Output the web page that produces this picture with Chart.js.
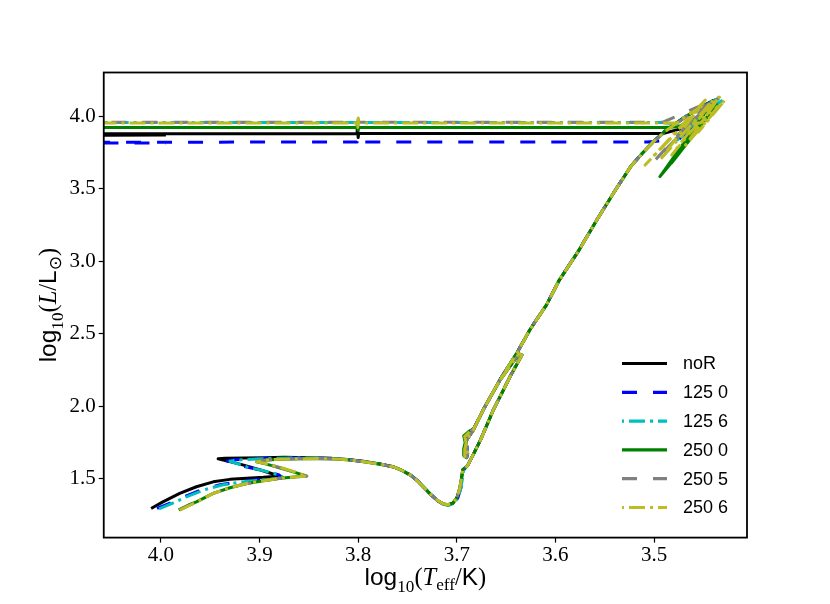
<!DOCTYPE html>
<html>
<head>
<meta charset="utf-8">
<script src="https://cdn.jsdelivr.net/npm/chart.js@4.4.0/dist/chart.umd.min.js"></script>
<style>
html,body{margin:0;padding:0;background:#ffffff;}
#wrap{width:830px;height:604px;position:relative;}
</style>
</head>
<body>
<div id="wrap"><canvas id="c" width="830" height="604"></canvas></div>
<script>
// ---------------- DATA ----------------
const seriesLabels = ['noR', '125 0', '125 6', '250 0', '250 5', '250 6'];
const xTicks = [3.5, 3.6, 3.7, 3.8, 3.9, 4.0];
const yTicks = [1.5, 2.0, 2.5, 3.0, 3.5, 4.0];

const teffNoR = [4.010,3.998,3.981,3.964,3.947,3.930,3.913,3.896,3.882,
 3.884,3.899,3.918,3.942,
 3.935,3.915,3.895,3.875,3.850,3.828,3.811,3.795,3.778,3.764,3.755,3.747,3.740,3.734,3.729,3.724,3.719,3.714,3.709,3.704,3.700,3.697,3.695,3.694,
 3.689,3.683,3.676,3.663,3.646,3.634,
 3.637,3.656,3.673,3.683,3.690,3.692,3.692,3.690,3.689,3.690,3.692,3.687,
 3.683,3.673,3.656,3.639,3.626,3.609,3.596,3.576,3.558,3.541,3.524,3.512,3.500,
 3.488,3.470,3.452,3.440,3.470,3.450,3.436,3.475,3.455,3.445,3.470,3.491,
 3.700,3.7995,3.800,3.8005,3.801,4.000,4.400,4.400,3.995];
const lumNoR = [1.294,1.340,1.398,1.444,1.478,1.495,1.502,1.509,1.517,
 1.527,1.560,1.597,1.637,
 1.640,1.643,1.645,1.647,1.645,1.640,1.633,1.620,1.602,1.582,1.555,1.524,1.485,1.443,1.408,1.374,1.345,1.325,1.318,1.330,1.365,1.430,1.510,1.560,
 1.590,1.670,1.766,1.973,2.203,2.353,
 2.362,2.182,1.977,1.838,1.765,1.700,1.655,1.645,1.670,1.730,1.790,1.825,
 1.842,1.977,2.185,2.367,2.526,2.700,2.871,3.078,3.285,3.472,3.651,3.745,3.830,
 3.905,3.990,4.065,4.110,3.880,4.030,4.120,3.850,3.990,4.050,3.920,3.883,
 3.883,3.883,3.855,3.911,3.883,3.881,3.880,3.866,3.872];

const teff125_0 = [4.004,3.990,3.975,3.958,3.940,3.922,3.905,3.890,3.877,
 3.880,3.897,3.915,3.933,
 3.925,3.905,3.885,3.865,3.845,3.826,3.810,3.794,3.777,3.763,3.754,3.746,3.739,3.733,3.728,3.723,3.718,3.713,3.708,3.703,3.699,3.696,3.694,3.693,
 3.689,3.683,3.676,3.663,3.646,3.635,
 3.638,3.656,3.673,3.683,3.690,3.692,3.692,3.690,3.689,3.690,3.692,3.687,
 3.683,3.673,3.656,3.639,3.626,3.609,3.596,3.576,3.558,3.541,3.524,3.512,3.500,
 3.486,3.468,3.450,3.438,3.468,3.448,3.434,3.478,3.458,3.446,3.478,3.507,
 3.700,3.7995,3.800,3.8005,3.801,4.000,4.400,4.400,3.995];
const lum125_0 = [1.294,1.333,1.380,1.425,1.458,1.478,1.490,1.499,1.507,
 1.525,1.555,1.583,1.622,
 1.630,1.637,1.641,1.644,1.644,1.639,1.631,1.618,1.600,1.579,1.552,1.521,1.482,1.440,1.404,1.371,1.342,1.323,1.317,1.330,1.366,1.431,1.511,1.561,
 1.592,1.672,1.768,1.975,2.205,2.355,
 2.364,2.184,1.979,1.840,1.767,1.702,1.657,1.647,1.672,1.732,1.792,1.827,
 1.844,1.979,2.187,2.369,2.528,2.702,2.873,3.080,3.287,3.474,3.653,3.747,3.832,
 3.910,4.000,4.075,4.115,3.870,4.035,4.125,3.820,3.960,4.040,3.840,3.824,
 3.824,3.824,3.810,3.845,3.824,3.823,3.822,3.812,3.818];

const teff125_6 = [4.002,3.988,3.973,3.956,3.938,3.920,3.903,3.888,3.876,
 3.879,3.895,3.913,3.930,
 3.922,3.903,3.884,3.864,3.844,3.825,3.809,3.793,3.777,3.763,3.754,3.746,3.739,3.733,3.728,3.723,3.718,3.713,3.708,3.703,3.699,3.696,3.694,3.693,
 3.689,3.683,3.676,3.663,3.646,3.635,
 3.638,3.656,3.673,3.683,3.690,3.692,3.692,3.690,3.689,3.690,3.692,3.687,
 3.683,3.673,3.656,3.639,3.626,3.609,3.596,3.576,3.558,3.541,3.524,3.512,3.500,
 3.487,3.469,3.451,3.437,3.472,3.449,3.433,3.476,3.456,3.429,3.468,3.491,
 3.700,3.7995,3.800,3.8005,3.801,4.400];
const lum125_6 = [1.292,1.331,1.378,1.423,1.456,1.476,1.488,1.497,1.505,
 1.523,1.553,1.581,1.620,
 1.628,1.636,1.640,1.643,1.643,1.638,1.630,1.617,1.599,1.578,1.551,1.520,1.481,1.439,1.403,1.370,1.341,1.322,1.316,1.329,1.365,1.430,1.510,1.560,
 1.591,1.671,1.767,1.974,2.204,2.354,
 2.363,2.183,1.978,1.839,1.766,1.701,1.656,1.646,1.671,1.731,1.791,1.826,
 1.843,1.978,2.186,2.368,2.527,2.701,2.872,3.079,3.286,3.473,3.652,3.746,3.831,
 3.908,3.995,4.070,4.125,3.860,4.040,4.135,3.840,3.985,4.120,3.940,3.958,
 3.958,3.958,3.975,3.940,3.958,3.958];

const teff250_0 = [3.982,3.972,3.964,3.947,3.930,3.913,3.896,3.879,3.862,3.853,
 3.865,3.880,3.893,3.903,
 3.897,3.880,3.860,3.840,3.823,3.808,3.794,3.778,3.764,3.755,3.747,3.740,3.734,3.729,3.724,3.719,3.714,3.709,3.704,3.700,3.697,3.695,3.694,
 3.689,3.683,3.676,3.663,3.646,3.634,
 3.637,3.656,3.673,3.683,3.691,3.693,3.693,3.691,3.690,3.691,3.693,3.688,
 3.683,3.673,3.656,3.639,3.626,3.609,3.596,3.576,3.558,3.541,3.524,3.512,3.500,
 3.488,3.470,3.452,3.440,3.494,3.480,3.462,3.445,3.436,3.482,3.462,3.437,3.475,3.491,
 3.700,3.7995,3.800,3.8005,3.801,4.400];
const lum250_0 = [1.285,1.318,1.340,1.398,1.437,1.467,1.485,1.502,1.513,1.518,
 1.545,1.575,1.600,1.617,
 1.627,1.634,1.638,1.639,1.636,1.629,1.617,1.600,1.581,1.555,1.524,1.486,1.444,1.409,1.376,1.347,1.327,1.320,1.332,1.367,1.432,1.512,1.562,
 1.590,1.670,1.766,1.973,2.203,2.353,
 2.362,2.182,1.977,1.838,1.765,1.705,1.660,1.648,1.672,1.735,1.795,1.825,
 1.842,1.977,2.185,2.367,2.526,2.700,2.871,3.078,3.285,3.472,3.651,3.745,3.830,
 3.905,3.990,4.065,4.105,3.585,3.700,3.860,4.010,4.080,3.680,3.880,4.060,3.930,3.924,
 3.924,3.924,3.905,3.945,3.924,3.924];

const teff250_5 = [3.981,3.971,3.964,3.947,3.930,3.913,3.896,3.879,3.862,3.852,
 3.864,3.879,3.892,3.903,
 3.897,3.880,3.860,3.840,3.823,3.808,3.794,3.778,3.764,3.755,3.747,3.740,3.734,3.729,3.724,3.719,3.714,3.709,3.704,3.700,3.697,3.695,3.694,
 3.689,3.683,3.676,3.663,3.646,3.634,
 3.637,3.656,3.673,3.683,3.690,3.692,3.692,3.690,3.689,3.690,3.692,3.687,
 3.683,3.673,3.656,3.639,3.626,3.609,3.596,3.576,3.558,3.541,3.524,3.512,3.500,
 3.487,3.469,3.451,3.443,3.500,3.461,3.441,3.484,3.464,3.438,3.478,3.454,3.434,3.491,
 3.700,3.7995,3.800,3.8005,3.801,4.400];
const lum250_5 = [1.284,1.317,1.340,1.398,1.437,1.467,1.485,1.502,1.513,1.517,
 1.546,1.576,1.600,1.616,
 1.627,1.634,1.638,1.639,1.636,1.629,1.617,1.600,1.581,1.555,1.524,1.486,1.444,1.409,1.376,1.347,1.327,1.320,1.332,1.367,1.432,1.512,1.562,
 1.590,1.670,1.766,1.973,2.203,2.353,
 2.362,2.182,1.977,1.838,1.765,1.700,1.655,1.645,1.670,1.730,1.790,1.825,
 1.842,1.977,2.185,2.367,2.526,2.700,2.871,3.078,3.285,3.472,3.651,3.745,3.830,
 3.902,3.992,4.068,4.090,3.690,3.985,4.110,3.800,3.935,4.115,3.845,4.020,4.132,3.961,
 3.961,3.961,3.980,3.945,3.961,3.961];

const teff250_6 = [3.981,3.970,3.963,3.947,3.930,3.913,3.896,3.879,3.862,3.852,
 3.864,3.879,3.892,3.903,
 3.897,3.880,3.860,3.840,3.823,3.808,3.794,3.778,3.764,3.755,3.747,3.740,3.734,3.729,3.724,3.719,3.714,3.709,3.704,3.700,3.697,3.695,3.694,
 3.689,3.683,3.676,3.663,3.646,3.634,
 3.637,3.656,3.673,3.683,3.690,3.692,3.692,3.690,3.689,3.690,3.692,3.687,
 3.683,3.673,3.656,3.639,3.626,3.609,3.596,3.576,3.558,3.541,3.524,3.512,3.500,
 3.488,3.470,3.452,3.509,3.448,3.494,3.440,3.482,3.433,3.468,3.428,3.455,3.435,3.453,3.491,
 3.700,3.7995,3.800,3.8005,3.801,4.000,4.400];
const lum250_6 = [1.283,1.318,1.340,1.398,1.437,1.467,1.485,1.502,1.513,1.517,
 1.546,1.577,1.601,1.616,
 1.627,1.634,1.638,1.639,1.636,1.629,1.617,1.600,1.581,1.555,1.524,1.486,1.444,1.409,1.376,1.347,1.327,1.320,1.332,1.367,1.432,1.512,1.562,
 1.590,1.670,1.766,1.973,2.203,2.353,
 2.362,2.182,1.977,1.838,1.765,1.700,1.655,1.645,1.670,1.730,1.790,1.825,
 1.842,1.977,2.185,2.367,2.526,2.700,2.871,3.078,3.285,3.472,3.651,3.745,3.830,
 3.900,3.990,4.070,3.665,4.114,3.700,4.114,3.734,4.142,3.803,4.114,3.893,4.073,3.955,3.955,
 3.955,3.955,3.990,3.925,3.955,3.955,3.955];

// ---------------- STYLES ----------------
const seriesTeff = [teffNoR, teff125_0, teff125_6, teff250_0, teff250_5, teff250_6];
const seriesLum  = [lumNoR, lum125_0, lum125_6, lum250_0, lum250_5, lum250_6];
const seriesColors = ['#000000', '#0000ff', '#00bfbf', '#008000', '#808080', '#bcbd22'];
const DASHED = [15, 16];
const DASHDOT = [16, 5, 3, 5];
const seriesDash = [[], DASHED, DASHDOT, [], DASHED, DASHDOT];
const legendDashOffset = [0, 0, 22, 0, 0, 22];

const X_MIN = 3.4057, X_MAX = 4.058, Y_MIN = 1.093, Y_MAX = 4.304;

const datasets = seriesLabels.map((lab, i) => ({
  label: lab,
  data: seriesTeff[i].map((t, k) => ({x: t, y: seriesLum[i][k]})),
  showLine: true,
  borderColor: seriesColors[i],
  backgroundColor: seriesColors[i],
  borderWidth: 3,
  borderDash: seriesDash[i],
  borderJoinStyle: 'round',
  borderCapStyle: 'butt',
  pointRadius: 0,
  pointHoverRadius: 0,
  fill: false,
  tension: 0,
  order: seriesLabels.length - i
}));

function drawRich(ctx, parts, cx, cy, rotate) {
  ctx.save();
  ctx.translate(cx, cy);
  if (rotate) ctx.rotate(-Math.PI / 2);
  let w = 0;
  parts.forEach(p => { ctx.font = p.f; p.w = ctx.measureText(p.t).width; w += p.w; });
  let x = -w / 2;
  ctx.textBaseline = 'alphabetic';
  ctx.textAlign = 'left';
  ctx.fillStyle = '#000';
  parts.forEach(p => { ctx.font = p.f; ctx.fillText(p.t, x, p.dy || 0); x += p.w; });
  ctx.restore();
}

const TF = 24.5;
const SANS = "'Liberation Sans'";
const SERIF = "'Liberation Serif'";
const xTitle = [
  {t: 'log', f: `${TF}px ${SANS}`},
  {t: '10', f: `${TF*0.7}px ${SERIF}`, dy: TF*0.28},
  {t: '(', f: `${TF}px ${SERIF}`},
  {t: 'T', f: `italic ${TF}px ${SERIF}`},
  {t: 'eff', f: `${TF*0.7}px ${SERIF}`, dy: TF*0.2},
  {t: '/', f: `${TF}px ${SERIF}`},
  {t: 'K', f: `${TF}px ${SANS}`},
  {t: ')', f: `${TF}px ${SERIF}`}
];
const yTitle = [
  {t: 'log', f: `${TF}px ${SANS}`},
  {t: '10', f: `${TF*0.7}px ${SERIF}`, dy: TF*0.28},
  {t: '(', f: `${TF}px ${SERIF}`},
  {t: 'L', f: `italic ${TF}px ${SERIF}`},
  {t: '/', f: `${TF}px ${SERIF}`},
  {t: 'L', f: `${TF}px ${SANS}`},
  {t: '\u2299', f: `${TF*0.7}px 'DejaVu Sans'`, dy: TF*0.2},
  {t: ')', f: `${TF}px ${SERIF}`}
];

const decorPlugin = {
  id: 'decor',
  afterDatasetsDraw(chart) {
    const ctx = chart.ctx, a = chart.chartArea;
    ctx.save();
    ctx.setLineDash([]);
    ctx.lineWidth = 1.8;
    ctx.strokeStyle = '#000';
    ctx.strokeRect(a.left, a.top, a.right - a.left, a.bottom - a.top);
    chart.data.datasets.forEach((ds, i) => {
      const y = 363.5 + i * 28.8;
      ctx.beginPath();
      ctx.setLineDash(ds.borderDash);
      ctx.lineDashOffset = legendDashOffset[i];
      ctx.strokeStyle = ds.borderColor;
      ctx.lineWidth = 3.2;
      ctx.lineCap = 'butt';
      ctx.moveTo(622, y);
      ctx.lineTo(667, y);
      ctx.stroke();
      ctx.setLineDash([]);
      ctx.fillStyle = '#000';
      ctx.font = `18px ${SANS}`;
      ctx.textBaseline = 'middle';
      ctx.textAlign = 'left';
      ctx.fillText(ds.label, 683, y + 1);
    });
    drawRich(ctx, xTitle, (a.left + a.right) / 2, 585, false);
    drawRich(ctx, yTitle, 56, (a.top + a.bottom) / 2, true);
    ctx.restore();
  }
};

const tickFont = {family: SERIF + ", serif", size: 21};

new Chart(document.getElementById('c'), {
  type: 'scatter',
  data: {datasets},
  plugins: [decorPlugin],
  options: {
    responsive: false,
    animation: false,
    events: [],
    layout: {padding: {top: 72.5, right: 83, left: 0, bottom: 0}},
    plugins: {legend: {display: false}, tooltip: {enabled: false}},
    scales: {
      x: {
        type: 'linear', reverse: true, min: X_MIN, max: X_MAX,
        afterFit(s) { s.height = 66.4; },
        afterBuildTicks(s) { s.ticks = xTicks.map(v => ({value: v})); },
        grid: {drawOnChartArea: false, drawTicks: true, tickLength: 5, tickColor: '#000', tickWidth: 1.2},
        border: {display: false},
        ticks: {color: '#000', font: tickFont, padding: 0, maxRotation: 0, autoSkip: false,
                callback: v => Number(v).toFixed(1)}
      },
      y: {
        type: 'linear', min: Y_MIN, max: Y_MAX,
        afterFit(s) { s.width = 103.75; },
        afterBuildTicks(s) { s.ticks = yTicks.map(v => ({value: v})); },
        grid: {drawOnChartArea: false, drawTicks: true, tickLength: 5, tickColor: '#000', tickWidth: 1.2},
        border: {display: false},
        ticks: {color: '#000', font: tickFont, padding: 3, autoSkip: false,
                callback: v => Number(v).toFixed(1)}
      }
    }
  }
});
</script>
</body>
</html>
